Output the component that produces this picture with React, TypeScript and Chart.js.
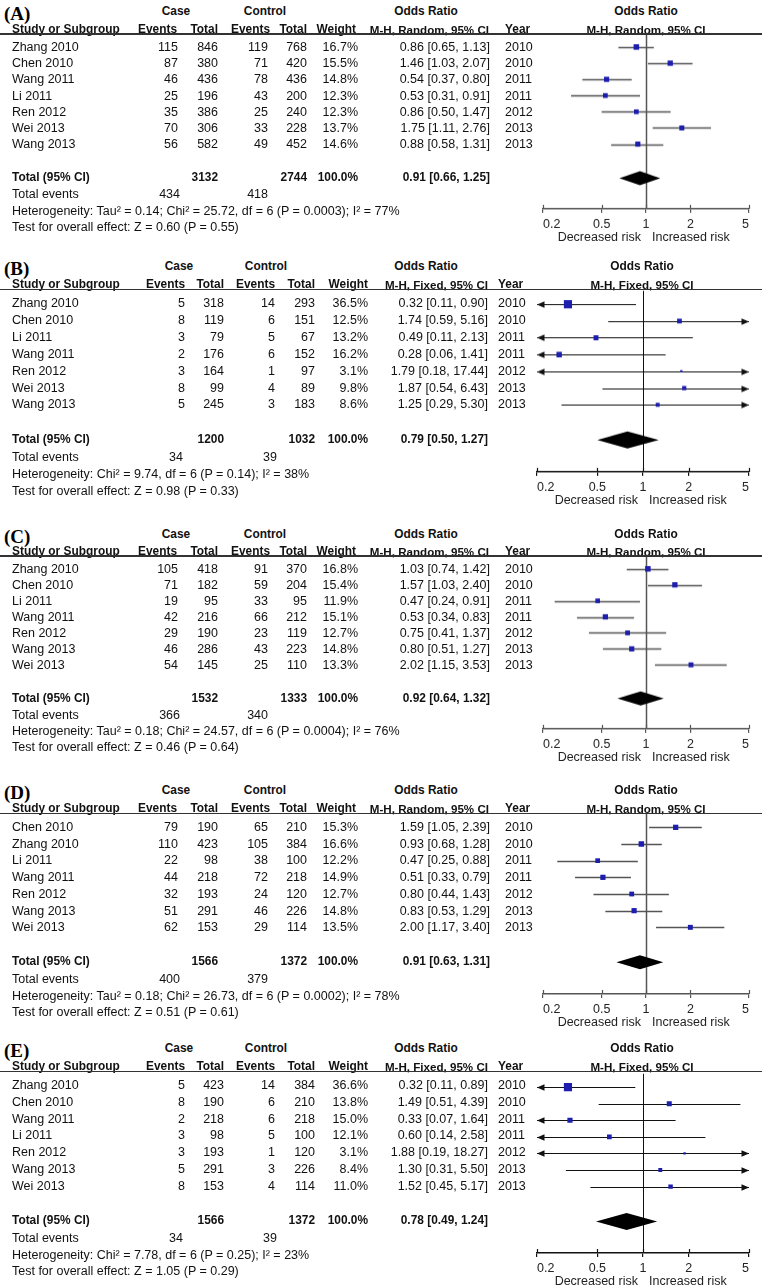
import React, { useEffect, useRef } from 'react';
import { Chart, registerables } from 'chart.js';
Chart.register(...registerables);

const FONT = '"Liberation Sans", Arial, Helvetica, sans-serif';
const SERIF = '"Liberation Serif", "Times New Roman", serif';
const BLUE = '#1e1eae';
const TEXT = '#111';
const FS = 12.5;
const HFS = 11.9;
const MHFS = 11.6;

const xTicks = [0.2, 0.5, 1, 2, 5];

// ---------- Panel A (M-H, Random) ----------
const aStudies = ['Zhang 2010', 'Chen 2010', 'Wang 2011', 'Li 2011', 'Ren 2012', 'Wei 2013', 'Wang 2013'];
const aCaseEvents = [115, 87, 46, 25, 35, 70, 56];
const aCaseTotal = [846, 380, 436, 196, 386, 306, 582];
const aCtrlEvents = [119, 71, 78, 43, 25, 33, 49];
const aCtrlTotal = [768, 420, 436, 200, 240, 228, 452];
const aWeight = [16.7, 15.5, 14.8, 12.3, 12.3, 13.7, 14.6];
const aOR = [0.86, 1.46, 0.54, 0.53, 0.86, 1.75, 0.88];
const aLow = [0.65, 1.03, 0.37, 0.31, 0.5, 1.11, 0.58];
const aHigh = [1.13, 2.07, 0.8, 0.91, 1.47, 2.76, 1.31];
const aYear = [2010, 2010, 2011, 2011, 2012, 2013, 2013];
const aTotals = [3132, 2744];
const aTotalEvents = [434, 418];
const aPooled = [0.91, 0.66, 1.25];
const aHet = 'Heterogeneity: Tau² = 0.14; Chi² = 25.72, df = 6 (P = 0.0003); I² = 77%';
const aTest = 'Test for overall effect: Z = 0.60 (P = 0.55)';

// ---------- Panel B (M-H, Fixed) ----------
const bStudies = ['Zhang 2010', 'Chen 2010', 'Li 2011', 'Wang 2011', 'Ren 2012', 'Wei 2013', 'Wang 2013'];
const bCaseEvents = [5, 8, 3, 2, 3, 8, 5];
const bCaseTotal = [318, 119, 79, 176, 164, 99, 245];
const bCtrlEvents = [14, 6, 5, 6, 1, 4, 3];
const bCtrlTotal = [293, 151, 67, 152, 97, 89, 183];
const bWeight = [36.5, 12.5, 13.2, 16.2, 3.1, 9.8, 8.6];
const bOR = [0.32, 1.74, 0.49, 0.28, 1.79, 1.87, 1.25];
const bLow = [0.11, 0.59, 0.11, 0.06, 0.18, 0.54, 0.29];
const bHigh = [0.9, 5.16, 2.13, 1.41, 17.44, 6.43, 5.3];
const bYear = [2010, 2010, 2011, 2011, 2012, 2013, 2013];
const bTotals = [1200, 1032];
const bTotalEvents = [34, 39];
const bPooled = [0.79, 0.5, 1.27];
const bHet = 'Heterogeneity: Chi² = 9.74, df = 6 (P = 0.14); I² = 38%';
const bTest = 'Test for overall effect: Z = 0.98 (P = 0.33)';

// ---------- Panel C (M-H, Random) ----------
const cStudies = ['Zhang 2010', 'Chen 2010', 'Li 2011', 'Wang 2011', 'Ren 2012', 'Wang 2013', 'Wei 2013'];
const cCaseEvents = [105, 71, 19, 42, 29, 46, 54];
const cCaseTotal = [418, 182, 95, 216, 190, 286, 145];
const cCtrlEvents = [91, 59, 33, 66, 23, 43, 25];
const cCtrlTotal = [370, 204, 95, 212, 119, 223, 110];
const cWeight = [16.8, 15.4, 11.9, 15.1, 12.7, 14.8, 13.3];
const cOR = [1.03, 1.57, 0.47, 0.53, 0.75, 0.8, 2.02];
const cLow = [0.74, 1.03, 0.24, 0.34, 0.41, 0.51, 1.15];
const cHigh = [1.42, 2.4, 0.91, 0.83, 1.37, 1.27, 3.53];
const cYear = [2010, 2010, 2011, 2011, 2012, 2013, 2013];
const cTotals = [1532, 1333];
const cTotalEvents = [366, 340];
const cPooled = [0.92, 0.64, 1.32];
const cHet = 'Heterogeneity: Tau² = 0.18; Chi² = 24.57, df = 6 (P = 0.0004); I² = 76%';
const cTest = 'Test for overall effect: Z = 0.46 (P = 0.64)';

// ---------- Panel D (M-H, Random) ----------
const dStudies = ['Chen 2010', 'Zhang 2010', 'Li 2011', 'Wang 2011', 'Ren 2012', 'Wang 2013', 'Wei 2013'];
const dCaseEvents = [79, 110, 22, 44, 32, 51, 62];
const dCaseTotal = [190, 423, 98, 218, 193, 291, 153];
const dCtrlEvents = [65, 105, 38, 72, 24, 46, 29];
const dCtrlTotal = [210, 384, 100, 218, 120, 226, 114];
const dWeight = [15.3, 16.6, 12.2, 14.9, 12.7, 14.8, 13.5];
const dOR = [1.59, 0.93, 0.47, 0.51, 0.8, 0.83, 2.0];
const dLow = [1.05, 0.68, 0.25, 0.33, 0.44, 0.53, 1.17];
const dHigh = [2.39, 1.28, 0.88, 0.79, 1.43, 1.29, 3.4];
const dYear = [2010, 2010, 2011, 2011, 2012, 2013, 2013];
const dTotals = [1566, 1372];
const dTotalEvents = [400, 379];
const dPooled = [0.91, 0.63, 1.31];
const dHet = 'Heterogeneity: Tau² = 0.18; Chi² = 26.73, df = 6 (P = 0.0002); I² = 78%';
const dTest = 'Test for overall effect: Z = 0.51 (P = 0.61)';

// ---------- Panel E (M-H, Fixed) ----------
const eStudies = ['Zhang 2010', 'Chen 2010', 'Wang 2011', 'Li 2011', 'Ren 2012', 'Wang 2013', 'Wei 2013'];
const eCaseEvents = [5, 8, 2, 3, 3, 5, 8];
const eCaseTotal = [423, 190, 218, 98, 193, 291, 153];
const eCtrlEvents = [14, 6, 6, 5, 1, 3, 4];
const eCtrlTotal = [384, 210, 218, 100, 120, 226, 114];
const eWeight = [36.6, 13.8, 15.0, 12.1, 3.1, 8.4, 11.0];
const eOR = [0.32, 1.49, 0.33, 0.6, 1.88, 1.3, 1.52];
const eLow = [0.11, 0.51, 0.07, 0.14, 0.19, 0.31, 0.45];
const eHigh = [0.89, 4.39, 1.64, 2.58, 18.27, 5.5, 5.17];
const eYear = [2010, 2010, 2011, 2011, 2012, 2013, 2013];
const eTotals = [1566, 1372];
const eTotalEvents = [34, 39];
const ePooled = [0.78, 0.49, 1.24];
const eHet = 'Heterogeneity: Chi² = 7.78, df = 6 (P = 0.25); I² = 23%';
const eTest = 'Test for overall effect: Z = 1.05 (P = 0.29)';

const TOTAL_ROW = 8.1;
const AXIS_ROW = 10;
const TOP_ROW = -0.8;

const RANDOM_COLS = {
  hdrR: [177, 218, 270, 307, 356], valR: [178, 218, 268, 307, 358],
  caseC: 176, ctrlC: 265, evR: [180, 268], orR: 490, orHdrC: 426, mhR: 489, yearL: 505,
  plotL: 543, plotR: 749, plotHdrC: 646, line: '#555', ci: '#555', ciW: 1.3, vW: 1.5, diamondH: 7,
};
const FIXED_COLS = {
  hdrR: [185, 224, 275, 315, 368], valR: [185, 224, 275, 315, 368],
  caseC: 179, ctrlC: 266, evR: [183, 277], orR: 488, orHdrC: 426, mhR: 488, yearL: 498,
  plotL: 537, plotR: 749, plotHdrC: 642, line: '#111', ci: '#111', ciW: 1, vW: 1, diamondH: 8.5,
};

const mk = (label, model, studies, ce, ct, ke, kt, w, or, lo, hi, yr, totals, tev, pooled, het, test, row0, step) => ({
  label, model, studies, ce, ct, ke, kt, w, or, lo, hi, yr, totals, tev, pooled, het, test, row0, step,
});

const PANELS = [
  mk('(A)', 'Random', aStudies, aCaseEvents, aCaseTotal, aCtrlEvents, aCtrlTotal, aWeight, aOR, aLow, aHigh, aYear, aTotals, aTotalEvents, aPooled, aHet, aTest, 47, 16.2),
  mk('(B)', 'Fixed', bStudies, bCaseEvents, bCaseTotal, bCtrlEvents, bCtrlTotal, bWeight, bOR, bLow, bHigh, bYear, bTotals, bTotalEvents, bPooled, bHet, bTest, 303, 16.9),
  mk('(C)', 'Random', cStudies, cCaseEvents, cCaseTotal, cCtrlEvents, cCtrlTotal, cWeight, cOR, cLow, cHigh, cYear, cTotals, cTotalEvents, cPooled, cHet, cTest, 569, 16.0),
  mk('(D)', 'Random', dStudies, dCaseEvents, dCaseTotal, dCtrlEvents, dCtrlTotal, dWeight, dOR, dLow, dHigh, dYear, dTotals, dTotalEvents, dPooled, dHet, dTest, 827, 16.7),
  mk('(E)', 'Fixed', eStudies, eCaseEvents, eCaseTotal, eCtrlEvents, eCtrlTotal, eWeight, eOR, eLow, eHigh, eYear, eTotals, eTotalEvents, ePooled, eHet, eTest, 1085, 16.8),
];

const fmtCI = (o, l, h) => `${o.toFixed(2)} [${l.toFixed(2)}, ${h.toFixed(2)}]`;

function T({ x, y, align = 'left', bold = false, size = FS, family = FONT, color = TEXT, children }) {
  const tx = align === 'left' ? '0' : align === 'right' ? '-100%' : '-50%';
  return (
    <div
      style={{
        position: 'absolute', left: x, top: y, transform: `translate(${tx}, -50%)`,
        whiteSpace: 'nowrap', fontFamily: family, fontSize: size, fontWeight: bold ? 700 : 400,
        lineHeight: 1, color,
      }}
    >
      {children}
    </div>
  );
}

function arrow(ctx, tipX, y, dir) {
  const len = 7.5, half = 3.2;
  ctx.beginPath();
  ctx.moveTo(tipX, y);
  ctx.lineTo(tipX - dir * len, y - half);
  ctx.lineTo(tipX - dir * len, y + half);
  ctx.closePath();
  ctx.fill();
}

const AXIS_H = 32;
const PAD_TOP = 4;

function ForestChart({ p, L, top, height }) {
  const ref = useRef(null);
  useEffect(() => {
    const forest = {
      id: 'forest',
      beforeDatasetsDraw(chart) {
        const { ctx, chartArea: a, scales } = chart;
        const x = scales.x, y = scales.y;
        ctx.save();
        const x1 = Math.round(x.getPixelForValue(1)) + 0.5;
        ctx.strokeStyle = L.line;
        ctx.lineWidth = L.vW;
        ctx.beginPath();
        ctx.moveTo(x1, a.top);
        ctx.lineTo(x1, a.bottom);
        ctx.stroke();
        ctx.lineWidth = 1.2;
        xTicks.forEach((v) => {
          const px = Math.round(x.getPixelForValue(v)) + 0.5;
          ctx.beginPath();
          ctx.moveTo(px, a.bottom);
          ctx.lineTo(px, a.bottom - 4);
          ctx.stroke();
        });
        ctx.strokeStyle = L.ci;
        ctx.fillStyle = L.ci;
        ctx.lineWidth = L.ciW;
        p.lo.forEach((lo, i) => {
          const hi = p.hi[i];
          const py = Math.round(y.getPixelForValue(i)) + 0.5;
          const xl = x.getPixelForValue(Math.max(lo, 0.2));
          const xr = x.getPixelForValue(Math.min(hi, 5));
          ctx.beginPath();
          ctx.moveTo(xl, py);
          ctx.lineTo(xr, py);
          ctx.stroke();
          if (lo < 0.2) arrow(ctx, xl, py, -1);
          if (hi > 5) arrow(ctx, xr, py, 1);
        });
        const [po, pl, ph] = p.pooled;
        const dy = y.getPixelForValue(TOTAL_ROW);
        const dh = L.diamondH;
        ctx.fillStyle = '#000';
        ctx.beginPath();
        ctx.moveTo(x.getPixelForValue(pl), dy);
        ctx.lineTo(x.getPixelForValue(po), dy - dh);
        ctx.lineTo(x.getPixelForValue(ph), dy);
        ctx.lineTo(x.getPixelForValue(po), dy + dh);
        ctx.closePath();
        ctx.fill();
        ctx.restore();
      },
    };
    const radii = p.w.map((w) => Math.max(2, 1.35 * Math.sqrt(w)) / Math.SQRT2);
    const chart = new Chart(ref.current, {
      type: 'scatter',
      data: {
        datasets: [
          {
            data: p.or.map((v, i) => ({ x: v, y: i })),
            pointStyle: 'rect',
            pointRadius: radii,
            pointHoverRadius: radii,
            backgroundColor: BLUE,
            borderColor: BLUE,
            borderWidth: 0,
          },
        ],
      },
      options: {
        responsive: false,
        maintainAspectRatio: false,
        animation: false,
        events: [],
        plugins: { legend: { display: false }, tooltip: { enabled: false } },
        layout: { padding: { left: L.plotL, right: 762 - L.plotR, top: PAD_TOP, bottom: 0 } },
        scales: {
          x: {
            type: 'logarithmic',
            position: 'bottom',
            min: 0.2,
            max: 5,
            afterBuildTicks: (s) => {
              s.ticks = xTicks.map((v) => ({ value: v }));
            },
            afterFit: (s) => {
              s.height = AXIS_H;
            },
            ticks: {
              callback: (v) => String(v),
              autoSkip: false,
              maxRotation: 0,
              minRotation: 0,
              align: 'inner',
              color: '#222',
              padding: 4,
              font: { family: FONT, size: 12.5 },
            },
            grid: { drawOnChartArea: false, drawTicks: true, tickLength: 4, color: L.line, lineWidth: 1.2 },
            border: { display: true, color: L.line, width: 1.5 },
          },
          y: { type: 'linear', min: TOP_ROW, max: AXIS_ROW, reverse: true, display: false },
        },
      },
      plugins: [forest],
    });
    return () => chart.destroy();
  }, []);
  return (
    <canvas
      ref={ref}
      width={762}
      height={height}
      style={{ position: 'absolute', left: 0, top, width: 762, height }}
    />
  );
}

function Panel({ p }) {
  const L = p.model === 'Random' ? RANDOM_COLS : FIXED_COLS;
  const s = p.step;
  const ry = (i) => p.row0 + i * s;
  const h1 = ry(-2.15);
  const h2 = ry(-1.05);
  const ul = ry(TOP_ROW);
  const axisY = ry(AXIS_ROW);
  const tY = ry(TOTAL_ROW);
  const canvasTop = ul - PAD_TOP;
  const canvasH = axisY - ul + PAD_TOP + AXIS_H;
  const mh = `M-H, ${p.model}, 95% CI`;
  const x1 = L.plotL + (L.plotR - L.plotL) / 2;
  return (
    <>
      <ForestChart p={p} L={L} top={canvasTop} height={canvasH} />
      <T x={4} y={h1 + 1} bold size={19} family={SERIF} color="#000">{p.label}</T>
      <T x={L.caseC} y={h1} align="center" bold size={HFS}>Case</T>
      <T x={L.ctrlC} y={h1} align="center" bold size={HFS}>Control</T>
      <T x={L.orHdrC} y={h1} align="center" bold size={HFS}>Odds Ratio</T>
      <T x={L.plotHdrC} y={h1} align="center" bold size={HFS}>Odds Ratio</T>

      <T x={12} y={h2} bold size={HFS}>Study or Subgroup</T>
      <T x={L.hdrR[0]} y={h2} align="right" bold size={HFS}>Events</T>
      <T x={L.hdrR[1]} y={h2} align="right" bold size={HFS}>Total</T>
      <T x={L.hdrR[2]} y={h2} align="right" bold size={HFS}>Events</T>
      <T x={L.hdrR[3]} y={h2} align="right" bold size={HFS}>Total</T>
      <T x={L.hdrR[4]} y={h2} align="right" bold size={HFS}>Weight</T>
      <T x={L.mhR} y={h2} align="right" bold size={MHFS}>{mh}</T>
      <T x={L.yearL} y={h2} bold size={HFS}>Year</T>
      <T x={L.plotHdrC} y={h2} align="center" bold size={MHFS}>{mh}</T>
      <div style={{ position: 'absolute', left: 0, top: ul - 0.75, width: 762, height: 1.5, background: '#333' }} />

      {p.studies.map((name, i) => (
        <React.Fragment key={name + i}>
          <T x={12} y={ry(i)}>{name}</T>
          <T x={L.valR[0]} y={ry(i)} align="right">{p.ce[i]}</T>
          <T x={L.valR[1]} y={ry(i)} align="right">{p.ct[i]}</T>
          <T x={L.valR[2]} y={ry(i)} align="right">{p.ke[i]}</T>
          <T x={L.valR[3]} y={ry(i)} align="right">{p.kt[i]}</T>
          <T x={L.valR[4]} y={ry(i)} align="right">{p.w[i].toFixed(1) + '%'}</T>
          <T x={L.orR} y={ry(i)} align="right">{fmtCI(p.or[i], p.lo[i], p.hi[i])}</T>
          <T x={L.yearL} y={ry(i)}>{p.yr[i]}</T>
        </React.Fragment>
      ))}

      <T x={12} y={tY} bold size={HFS}>Total (95% CI)</T>
      <T x={L.valR[1]} y={tY} align="right" bold size={HFS}>{p.totals[0]}</T>
      <T x={L.valR[3]} y={tY} align="right" bold size={HFS}>{p.totals[1]}</T>
      <T x={L.valR[4]} y={tY} align="right" bold size={HFS}>100.0%</T>
      <T x={L.orR} y={tY} align="right" bold size={HFS}>{fmtCI(p.pooled[0], p.pooled[1], p.pooled[2])}</T>

      <T x={12} y={tY + s}>Total events</T>
      <T x={L.evR[0]} y={tY + s} align="right">{p.tev[0]}</T>
      <T x={L.evR[1]} y={tY + s} align="right">{p.tev[1]}</T>
      <T x={12} y={tY + 2 * s}>{p.het}</T>
      <T x={12} y={tY + 3 * s}>{p.test}</T>

      <T x={x1 - 5} y={axisY + 27.5} align="right" color="#222">Decreased risk</T>
      <T x={x1 + 6} y={axisY + 27.5} color="#222">Increased risk</T>
    </>
  );
}

export default function App() {
  return (
    <div style={{ position: 'absolute', left: 0, top: 0, width: 762, height: 1286, background: '#fff', overflow: 'hidden' }}>
      {PANELS.map((p) => (
        <Panel key={p.label} p={p} />
      ))}
    </div>
  );
}
